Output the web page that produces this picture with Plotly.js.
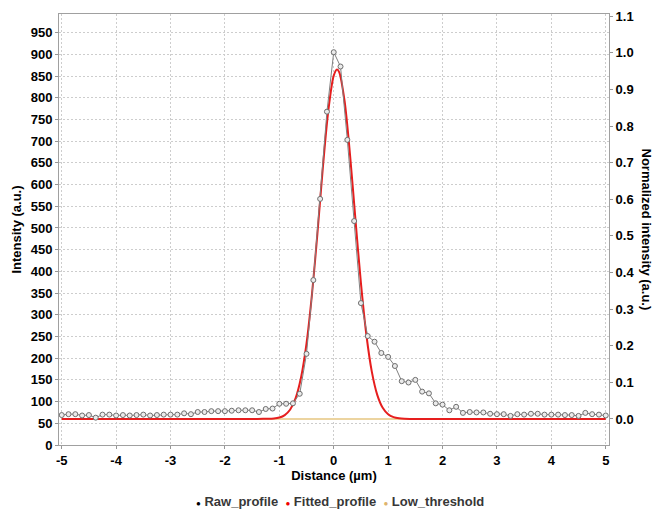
<!DOCTYPE html>
<html>
<head>
<meta charset="utf-8">
<script src="https://cdn.plot.ly/plotly-3.0.1.min.js"></script>
<style>html,body{margin:0;padding:0;background:#fff;}#chart{width:668px;height:514px;}</style>
</head>
<body>
<div id="chart"></div>
<script>
// Raw profile samples (distance in µm, intensity in a.u.)
var rawX = [-5.000,-4.875,-4.750,-4.625,-4.500,-4.375,-4.250,-4.125,-4.000,-3.875,-3.750,-3.625,-3.500,-3.375,-3.250,-3.125,-3.000,-2.875,-2.750,-2.625,-2.500,-2.375,-2.250,-2.125,-2.000,-1.875,-1.750,-1.625,-1.500,-1.375,-1.250,-1.125,-1.000,-0.875,-0.750,-0.625,-0.500,-0.375,-0.250,-0.125,0.000,0.125,0.250,0.375,0.500,0.625,0.750,0.875,1.000,1.125,1.250,1.375,1.500,1.625,1.750,1.875,2.000,2.125,2.250,2.375,2.500,2.625,2.750,2.875,3.000,3.125,3.250,3.375,3.500,3.625,3.750,3.875,4.000,4.125,4.250,4.375,4.500,4.625,4.750,4.875,5.000];
var rawY = [69,71,71,68,69,63,70,70,68,69,68,69,70,68,69,70,70,70,73,71,76,76,78,78,78,79,80,80,80,76,83,84,95,95,96,118,210,380,567,768,905,872,703,516,327,251,238,212,203,182,147,144,150,123,119,96,93,80,88,74,76,75,75,72,71,71,67,71,70,72,72,70,70,70,69,69,67,74,71,70,68];

// Fitted profile
var fitX = [-5.0,-1.4,-1.3,-1.2,-1.1,-1.0,-0.9,-0.8,-0.7,-0.6,-0.5,-0.4,-0.3,-0.2,-0.1,0.0,0.06,0.1,0.2,0.3,0.4,0.5,0.6,0.7,0.8,0.9,1.0,1.1,1.2,1.3,1.4,5.0];
var fitY = [60,60.1,60.2,60.3,61.1,63.3,68.9,81.8,108,156,234,347,487,639,770,851,865,859,792,668,518,373,254,169,115.5,85.7,70.8,64.1,61.4,60.4,60.1,60];

// Low threshold
var thrX = [-5, 5];
var thrY = [60, 60];

// Axis ticks
var leftTicks = [0,50,100,150,200,250,300,350,400,450,500,550,600,650,700,750,800,850,900,950];
var rightTicks = [0.0,0.1,0.2,0.3,0.4,0.5,0.6,0.7,0.8,0.9,1.0,1.1];
var xTicks = [-5,-4,-3,-2,-1,0,1,2,3,4,5];
var seriesNames = ["Raw_profile","Fitted_profile","Low_threshold"];
var legendColors = ["rgb(0,0,0)","rgb(240,0,0)","rgb(222,180,110)"];

var FONT = "Liberation Sans, Arial, sans-serif";
var rawColor = "rgb(128,128,128)";
var fitColor = "rgb(230,30,30)";
var thrColor = "rgb(236,212,160)";
var gridColor = "rgb(205,205,205)";

var traces = [
  {x: thrX, y: thrY, mode: "lines", name: seriesNames[2], line: {color: thrColor, width: 2}},
  {x: fitX, y: fitY, mode: "lines", name: seriesNames[1], line: {color: fitColor, width: 2, shape: "spline", smoothing: 0.8}},
  {x: rawX, y: rawY, mode: "lines+markers", name: seriesNames[0], line: {color: rawColor, width: 1},
   marker: {symbol: "circle", size: 5, color: "rgb(235,235,235)", line: {color: "rgb(110,110,110)", width: 1}}},
  {x: [null], y: [null], yaxis: "y2", mode: "markers", showlegend: false}
];

var legendText = seriesNames.map(function(n, i){
  return "<span style='color:" + legendColors[i] + ";font-size:8px'>●</span> " + n;
}).join("  ");

var tickFont = {family: FONT, size: 13, color: "black", weight: "bold"};
var titleFont = {family: FONT, size: 13, color: "black", weight: "bold"};

var layout = {
  width: 668, height: 514,
  margin: {l: 59, r: 59, t: 14, b: 69, autoexpand: false},
  paper_bgcolor: "white", plot_bgcolor: "white",
  font: {family: FONT, size: 13, color: "black"},
  showlegend: false,
  xaxis: {
    range: [-5.05, 5.06], tickvals: xTicks, ticktext: xTicks.map(String),
    showgrid: true, gridcolor: gridColor, griddash: "2px,2px", gridwidth: 1,
    zeroline: false, showline: true, linecolor: "rgb(160,160,160)", linewidth: 1, mirror: true,
    ticks: "outside", ticklen: 3, tickcolor: "rgb(150,150,150)",
    tickfont: tickFont,
    title: {text: "Distance (µm)", font: titleFont, standoff: 4}
  },
  yaxis: {
    range: [0, 993], tickvals: leftTicks, ticktext: leftTicks.map(String),
    showgrid: true, gridcolor: gridColor, griddash: "2px,2px", gridwidth: 1,
    zeroline: false, showline: true, linecolor: "rgb(160,160,160)", linewidth: 1, mirror: true,
    ticks: "outside", ticklen: 3, tickcolor: "rgb(150,150,150)",
    tickfont: tickFont,
    title: {text: "Intensity (a.u.)", font: titleFont, standoff: 6}
  },
  yaxis2: {
    overlaying: "y", side: "right",
    range: [-0.0711, 1.106], tickvals: rightTicks, ticktext: rightTicks.map(function(v){return v.toFixed(1);}),
    showgrid: false, zeroline: false, showline: true, linecolor: "rgb(160,160,160)", linewidth: 1,
    ticks: "outside", ticklen: 3, tickcolor: "rgb(150,150,150)",
    tickfont: tickFont
  },
  annotations: [
    {text: "Normalized intensity (a.u.)", textangle: 90, showarrow: false,
     xref: "paper", yref: "paper", x: 1, xshift: 37, y: 0.5, xanchor: "center", yanchor: "middle",
     font: titleFont},
    {text: legendText, showarrow: false, xref: "paper", yref: "paper", x: 0.511, y: -0.132,
     xanchor: "center", yanchor: "middle",
     font: {family: FONT, size: 13, color: "rgb(55,55,55)", weight: "bold"}}
  ]
};

Plotly.newPlot("chart", traces, layout, {displayModeBar: false, staticPlot: true});
</script>
</body>
</html>
